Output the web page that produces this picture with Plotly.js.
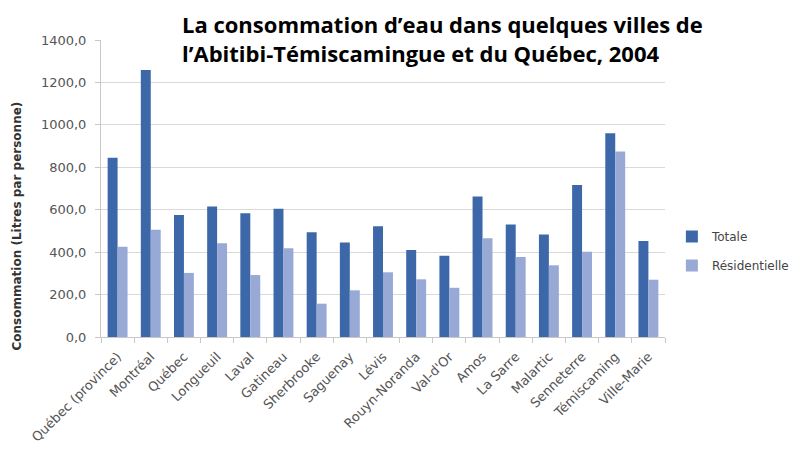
<!DOCTYPE html>
<html>
<head>
<meta charset="utf-8">
<script src="https://cdn.plot.ly/plotly-3.0.1.min.js"></script>
<style>html,body{margin:0;padding:0;background:#fff}#chart{width:806px;height:449px}</style>
</head>
<body>
<div id="chart"></div>
<script>
var categories = ["Québec (province)", "Montréal", "Québec", "Longueuil", "Laval", "Gatineau", "Sherbrooke", "Saguenay", "Lévis", "Rouyn-Noranda", "Val-d'Or", "Amos", "La Sarre", "Malartic", "Senneterre", "Témiscaming", "Ville-Marie"];
var totale = [845, 1258, 575, 615, 583, 605, 494, 445, 522, 410, 383, 662, 530, 483, 717, 960, 452];
var residentielle = [425, 505, 302, 442, 292, 418, 157, 220, 305, 272, 232, 465, 377, 338, 402, 875, 270];
var yTickVals = [0, 200, 400, 600, 800, 1000, 1200, 1400];
var yTickText = ["0,0", "200,0", "400,0", "600,0", "800,0", "1000,0", "1200,0", "1400,0"];
var titleText = "<b>La consommation d’eau dans quelques villes de<br>l’Abitibi-Témiscamingue et du Québec, 2004</b>";
var yTitleText = "<b>Consommation (Litres par personne)</b>";

var W = 806, H = 449, ML = 101, MR = 131, MT = 40, MB = 112;
var PW = W - ML - MR, PH = H - MT - MB;
function px2x(p) { return (p - ML) / PW; }
function px2y(p) { return (H - MB - p) / PH; }

var traces = [
  {type: "bar", name: "Totale", legendgroup: "t", x: categories, y: totale, marker: {color: "#3c68aa"}},
  {type: "bar", name: "Résidentielle", legendgroup: "r", x: categories, y: residentielle, marker: {color: "#98a9d6"}}
];

var layout = {
  width: W, height: H,
  margin: {l: ML, r: MR, t: MT, b: MB},
  paper_bgcolor: "#fff", plot_bgcolor: "#fff",
  barmode: "group", bargap: 0.4, bargroupgap: 0,
  showlegend: true,
  legend: {x: px2x(682), y: px2y(222), xanchor: "left", yanchor: "top", traceorder: "grouped",
           font: {family: "DejaVu Sans", size: 12, color: "#444"}, tracegroupgap: 10, itemwidth: 30},
  annotations: [
    {text: titleText, xref: "paper", yref: "paper", x: px2x(181), y: px2y(38), xanchor: "left", yanchor: "middle",
     align: "left", showarrow: false, font: {family: "Open Sans", size: 22, color: "#000"}},
    {text: yTitleText, xref: "paper", yref: "paper", x: px2x(16), y: px2y(226), xanchor: "center", yanchor: "middle",
     textangle: -90, showarrow: false, font: {family: "DejaVu Sans", size: 12, color: "#333"}}
  ],
  xaxis: {
    tickangle: -45, tickfont: {family: "DejaVu Sans", size: 13, color: "#555"},
    showline: true, linecolor: "#c8c8c8", ticks: "outside", tickson: "boundaries", tickcolor: "#c8c8c8", ticklen: 5,
    ticklabelstandoff: 6, showgrid: false, automargin: false
  },
  yaxis: {
    range: [0, 1400], tickvals: yTickVals, ticktext: yTickText,
    tickfont: {family: "DejaVu Sans", size: 13, color: "#555"},
    showgrid: true, gridcolor: "#d9d9d9", zeroline: false,
    showline: true, linecolor: "#c8c8c8", ticks: "outside", tickcolor: "#c8c8c8", ticklen: 5,
    ticklabelstandoff: 6, automargin: false
  }
};
Plotly.newPlot("chart", traces, layout, {displayModeBar: false, staticPlot: true});
</script>
</body>
</html>
